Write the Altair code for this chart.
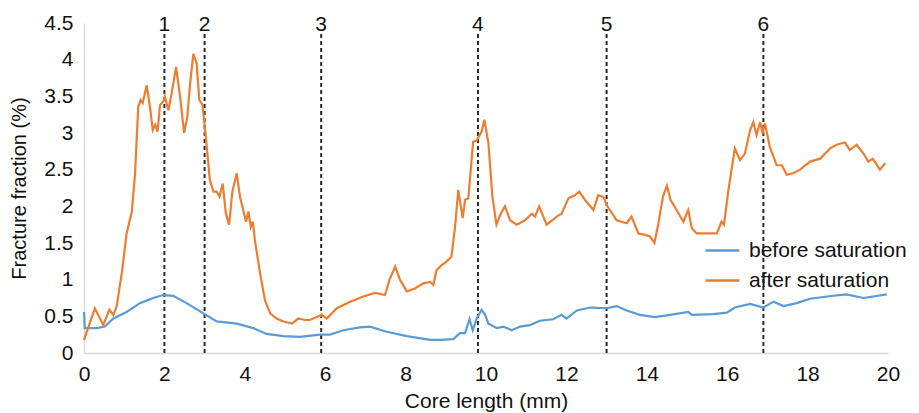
import altair as alt
import pandas as pd

# ---- data ----
after_x = [0.00, 0.27, 0.48, 0.63, 0.73, 0.81, 0.94, 1.06, 1.19, 1.27, 1.35, 1.41, 1.46, 1.56, 1.64,
           1.71, 1.77, 1.83, 1.89, 1.97, 2.01, 2.10, 2.18, 2.29, 2.39, 2.49, 2.57, 2.64, 2.72, 2.80,
           2.87, 2.95, 3.03, 3.13, 3.22, 3.30, 3.37, 3.45, 3.53, 3.61, 3.69, 3.80, 3.88, 3.96, 4.03,
           4.09, 4.15, 4.20, 4.25, 4.38, 4.50, 4.63, 4.79, 4.96, 5.17, 5.33, 5.50, 5.62, 5.91, 6.04,
           6.29, 6.62, 6.95, 7.24, 7.49, 7.60, 7.74, 7.86, 8.03, 8.23, 8.44, 8.61, 8.69, 8.77, 8.90,
           9.02, 9.14, 9.23, 9.31, 9.42, 9.48, 9.56, 9.68, 9.77, 9.89, 9.96, 10.06, 10.16, 10.26, 10.35,
           10.47, 10.60, 10.76, 10.97, 11.14, 11.22, 11.32, 11.51, 11.76, 11.88, 12.05, 12.21, 12.32, 12.46,
           12.67, 12.79, 12.92, 13.02, 13.25, 13.50, 13.62, 13.79, 13.96, 14.08, 14.19, 14.29, 14.40, 14.50,
           14.59, 14.74, 14.91, 15.03, 15.12, 15.24, 15.49, 15.74, 15.86, 15.92, 16.03, 16.19, 16.32, 16.44,
           16.57, 16.65, 16.73, 16.82, 16.88, 16.94, 17.06, 17.23, 17.36, 17.48, 17.64, 17.81, 18.06, 18.31,
           18.56, 18.72, 18.93, 19.05, 19.22, 19.39, 19.51, 19.62, 19.80, 19.93]
after_y = [0.18, 0.61, 0.38, 0.59, 0.52, 0.63, 1.09, 1.63, 1.93, 2.45, 3.36, 3.45, 3.41, 3.65, 3.36,
           3.04, 3.11, 3.02, 3.38, 3.43, 3.50, 3.31, 3.54, 3.90, 3.50, 3.00, 3.22, 3.68, 4.08, 3.95,
           3.45, 3.38, 2.95, 2.36, 2.20, 2.20, 2.13, 2.31, 1.90, 1.75, 2.20, 2.45, 2.13, 1.95, 1.79,
           1.93, 1.72, 1.79, 1.54, 1.09, 0.72, 0.54, 0.47, 0.43, 0.40, 0.47, 0.45, 0.45, 0.52, 0.47,
           0.61, 0.70, 0.77, 0.82, 0.79, 1.00, 1.18, 1.00, 0.84, 0.88, 0.95, 0.97, 0.93, 1.13, 1.20,
           1.25, 1.31, 1.72, 2.22, 1.84, 2.09, 2.11, 2.88, 2.90, 3.02, 3.18, 2.86, 2.13, 1.75, 1.88,
           2.00, 1.81, 1.75, 1.81, 1.90, 1.86, 2.00, 1.75, 1.86, 1.90, 2.11, 2.15, 2.20, 2.09,
           1.95, 2.15, 2.13, 2.00, 1.81, 1.77, 1.86, 1.63, 1.61, 1.59, 1.50, 1.77, 2.13, 2.28,
           2.09, 1.95, 1.79, 1.95, 1.70, 1.63, 1.63, 1.63, 1.79, 1.75, 2.22, 2.79, 2.63, 2.72,
           3.04, 3.15, 2.97, 3.15, 2.99, 3.13, 2.81, 2.56, 2.56, 2.43, 2.45, 2.50, 2.61, 2.65,
           2.79, 2.84, 2.87, 2.77, 2.84, 2.72, 2.61, 2.65, 2.50, 2.59]

before_x = [0.00, 0.02, 0.32, 0.52, 0.73, 1.06, 1.39, 1.72, 1.97, 2.22, 2.55, 2.97, 3.30, 3.80, 4.21,
            4.54, 4.96, 5.37, 5.87, 6.12, 6.45, 6.87, 7.11, 7.53, 8.03, 8.61, 8.86, 9.19, 9.35, 9.48,
            9.59, 9.67, 9.77, 9.89, 9.98, 10.06, 10.27, 10.43, 10.64, 10.85, 11.09, 11.34, 11.67, 11.88,
            12.00, 12.26, 12.59, 13.00, 13.25, 13.50, 13.83, 14.20, 14.58, 15.03, 15.12, 15.65, 15.99,
            16.19, 16.57, 16.90, 17.15, 17.40, 17.73, 18.06, 18.48, 18.97, 19.39, 19.63, 19.97]
before_y = [0.56, 0.34, 0.34, 0.36, 0.47, 0.56, 0.68, 0.75, 0.79, 0.78, 0.68, 0.54, 0.43, 0.40, 0.34,
            0.26, 0.23, 0.22, 0.25, 0.25, 0.31, 0.35, 0.36, 0.29, 0.23, 0.18, 0.18, 0.19, 0.27, 0.27,
            0.46, 0.31, 0.47, 0.59, 0.52, 0.40, 0.34, 0.36, 0.31, 0.36, 0.38, 0.44, 0.46, 0.52,
            0.47, 0.58, 0.62, 0.61, 0.64, 0.58, 0.52, 0.49, 0.52, 0.56, 0.52, 0.53, 0.55,
            0.62, 0.67, 0.62, 0.70, 0.64, 0.68, 0.74, 0.77, 0.80, 0.75, 0.77, 0.80]

marker_x = [2.0, 3.0, 5.9, 9.8, 13.0, 16.9]
marker_labels = ["1", "2", "3", "4", "5", "6"]

series_names = ["before saturation", "after saturation"]
series_colors = ["#5B9BD5", "#ED7D31"]

x_ticks = list(range(0, 21, 2))
y_ticks = [0, 0.5, 1, 1.5, 2, 2.5, 3, 3.5, 4, 4.5]

# ---- tables ----
df_lines = pd.concat([
    pd.DataFrame({"x": before_x, "y": before_y, "series": series_names[0], "order": range(len(before_x))}),
    pd.DataFrame({"x": after_x, "y": after_y, "series": series_names[1], "order": range(len(after_x))}),
])
df_marks = pd.DataFrame({"x": marker_x, "label": marker_labels})

FONT = "Liberation Sans"
TXT = "#111111"

x_scale = alt.Scale(domain=[0, 20], nice=False, zero=False)
y_scale = alt.Scale(domain=[0, 4.5], nice=False)

x_axis = alt.Axis(values=x_ticks, ticks=False, grid=False, labelPadding=10,
                  labelOverlap=False, labelFlush=False, titlePadding=6, titleFontSize=21,
                  domainColor="#D9D9D9", domainWidth=1.5)
y_axis = alt.Axis(values=y_ticks, format="~g", ticks=False, grid=False, labelPadding=11,
                  labelOverlap=False, labelFlush=False, titlePadding=14,
                  domainColor="#D9D9D9", domainWidth=1.5)

lines = alt.Chart(df_lines).mark_line(strokeWidth=2.2).encode(
    x=alt.X("x:Q", scale=x_scale, title="Core length (mm)", axis=x_axis),
    y=alt.Y("y:Q", scale=y_scale, title="Fracture fraction (%)", axis=y_axis),
    color=alt.Color("series:N", scale=alt.Scale(domain=series_names, range=series_colors),
                    legend=alt.Legend(title=None, orient="none", legendX=620, legendY=209,
                                      symbolType="stroke", symbolSize=1150, symbolStrokeWidth=2.5,
                                      labelFontSize=21, labelFont=FONT, labelColor=TXT,
                                      labelOffset=8, rowPadding=1)),
    order="order:Q",
)

rules = alt.Chart(df_marks).mark_rule(color="#2a2a2a", strokeWidth=2, strokeDash=[4, 3]).encode(
    x=alt.X("x:Q", scale=x_scale, title="Core length (mm)", axis=x_axis),
    y=alt.YDatum(0, scale=y_scale, title="Fracture fraction (%)", axis=y_axis),
    y2=alt.datum(4.37),
)

labels = alt.Chart(df_marks).mark_text(fontSize=21, font=FONT, color=TXT, baseline="middle", dy=2).encode(
    x=alt.X("x:Q", scale=x_scale, title="Core length (mm)", axis=x_axis),
    y=alt.YDatum(4.5, scale=y_scale, title="Fracture fraction (%)", axis=y_axis),
    text="label:N",
)

chart = alt.layer(rules, lines, labels).properties(
    width=804, height=330,
    autosize=alt.AutoSizeParams(type="none"),
    padding={"left": 76, "top": 15, "right": 20, "bottom": 62},
).configure_view(stroke=None).configure_axis(
    labelFont=FONT, titleFont=FONT, labelFontSize=21, titleFontSize=20,
    labelColor=TXT, titleColor=TXT, titleFontWeight="normal", labelOverlap=False,
)

chart.save("out.html", embed_options={"renderer": "svg", "actions": False})
